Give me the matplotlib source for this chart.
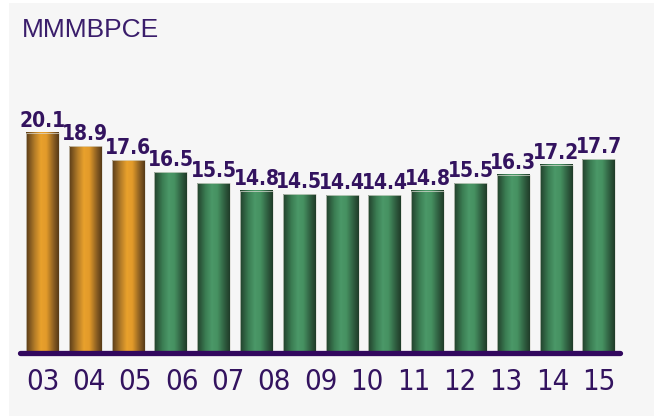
import numpy as np
import matplotlib

matplotlib.use("Agg")
import matplotlib.pyplot as plt
from matplotlib import font_manager as fm
from matplotlib.colors import LinearSegmentedColormap
from matplotlib.patches import Rectangle
from matplotlib.transforms import blended_transform_factory

# data
values = [20.1, 18.9, 17.6, 16.5, 15.5, 14.8, 14.5, 14.4, 14.4, 14.8, 15.5, 16.3, 17.2, 17.7]
n_orange = 3
year_labels = ["03", "04", "05", "06", "07", "08", "09", "10", "11", "12", "13", "14", "15"]
title = "MMMBPCE"

TXT = "#33135f"


def narrow_font():
    # look for some condensed sans among the installed fonts
    for f in fm.fontManager.ttflist:
        low = (f.name + " " + f.fname).lower()
        if ("narrow" in low or "condensed" in low) and "sans" in low and "mono" not in low:
            return dict(family=f.name, stretch=f.stretch), True
    return dict(family="Liberation Sans"), False


NARROW, is_narrow = narrow_font()
val_size = 15 if is_narrow else 13.5
tick_size = 21 if is_narrow else 19

W, H = 654, 418
fig = plt.figure(figsize=(W / 100, H / 100), dpi=100)
fig.patch.set_facecolor("white")
fig.add_artist(Rectangle((9 / W, 2 / H), 1, 1 - 5 / H, transform=fig.transFigure,
                         facecolor="#f6f6f6", edgecolor="none", zorder=0))

# axes: baseline at y=353 px, x from 17 to 623 px
ax = fig.add_axes([17 / W, (H - 353) / H, (623 - 17) / W, 350 / H])
ax.set_facecolor("none")
pitch_px = 42.8
ax.set_xlim((17 - 42.5) / pitch_px, (623 - 42.5) / pitch_px)
ax.set_ylim(0, 350 / 10.95)
ax.axis("off")

orange = LinearSegmentedColormap.from_list("o", [
    (0.0, "#5a3c18"), (0.25, "#b07a28"), (0.45, "#e9a12c"), (0.62, "#e29a2a"),
    (0.85, "#8a5e22"), (1.0, "#573a17")])
green = LinearSegmentedColormap.from_list("g", [
    (0.0, "#22402c"), (0.25, "#3a7c52"), (0.45, "#4b9868"), (0.62, "#469161"),
    (0.85, "#2e5c3f"), (1.0, "#203c29")])

grad = np.linspace(0, 1, 64).reshape(1, -1)
bw = 0.77
for i, v in enumerate(values):
    cmap = orange if i < n_orange else green
    ax.imshow(grad, cmap=cmap, aspect="auto", interpolation="bilinear",
              extent=[i - bw / 2, i + bw / 2, 0, v], zorder=2)
    ax.add_patch(Rectangle((i - bw / 2, 0), bw, v, facecolor="none",
                           edgecolor="#dcdcd4", lw=0.5, zorder=3))
    ax.annotate(f"{v:.1f}", (i, v), xytext=(0, 4.3), textcoords="offset points",
                ha="center", va="baseline", fontsize=val_size, fontweight="bold",
                color=TXT, **NARROW)

# baseline
ax.plot([ax.get_xlim()[0] + 0.06, ax.get_xlim()[1] - 0.06], [0, 0], color="#32085e",
        lw=3.8, solid_capstyle="round", clip_on=False, zorder=4)

# year labels spread evenly over the bars
tr = blended_transform_factory(ax.transData, fig.transFigure)
pos = np.linspace(0, len(values) - 1, len(year_labels))
for p, lab in zip(pos, year_labels):
    ax.text(p, (H - 390) / H, lab, transform=tr, ha="center", va="baseline",
            fontsize=tick_size, color=TXT, **NARROW)

fig.text(22 / W, 1 - 37 / H, title, ha="left", va="baseline", fontsize=19,
         color="#3a1d6b", family=["Liberation Sans", "DejaVu Sans"])

fig.savefig("out.png", dpi=100, facecolor=fig.get_facecolor())
